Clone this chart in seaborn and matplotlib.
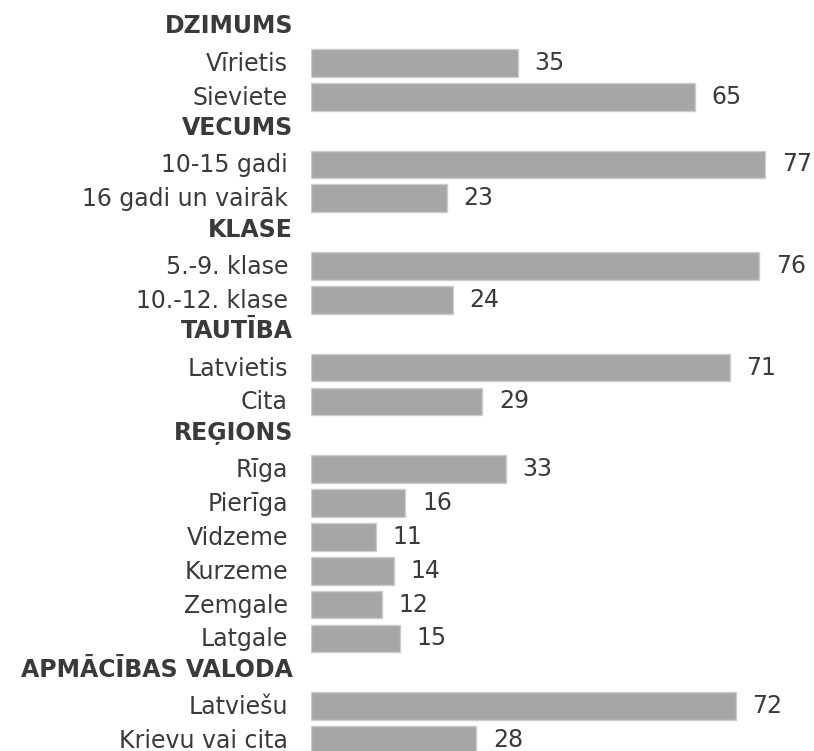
import matplotlib
matplotlib.use("Agg")
import matplotlib.pyplot as plt
import matplotlib.transforms as mtransforms
import seaborn as sns
import pandas as pd

# groups (header) and their categories / values in %
groups = ["DZIMUMS", "VECUMS", "KLASE", "TAUTĪBA", "REĢIONS", "APMĀCĪBAS VALODA"]
dzimums_labels = ["Vīrietis", "Sieviete"]
dzimums_values = [35, 65]
vecums_labels = ["10-15 gadi", "16 gadi un vairāk"]
vecums_values = [77, 23]
klase_labels = ["5.-9. klase", "10.-12. klase"]
klase_values = [76, 24]
tautiba_labels = ["Latvietis", "Cita"]
tautiba_values = [71, 29]
regions_labels = ["Rīga", "Pierīga", "Vidzeme", "Kurzeme", "Zemgale", "Latgale"]
regions_values = [33, 16, 11, 14, 12, 15]
valoda_labels = ["Latviešu", "Krievu vai cita"]
valoda_values = [72, 28]

group_items = [
    (dzimums_labels, dzimums_values),
    (vecums_labels, vecums_values),
    (klase_labels, klase_values),
    (tautiba_labels, tautiba_values),
    (regions_labels, regions_values),
    (valoda_labels, valoda_values),
]

order = []
rows = []
for g, (labs, vals) in zip(groups, group_items):
    order.append(g)
    for l, v in zip(labs, vals):
        order.append(l)
        rows.append({"label": l, "value": v})
df = pd.DataFrame(rows)

text_color = "#3a3a3a"
sns.set_style("white")
plt.rcParams["font.family"] = ["DejaVu Sans"]

W, H = 814, 751
fig = plt.figure(figsize=(W / 100, H / 100), dpi=100)
left_px, right_px = 311, 814
top_px, bot_px = 12, 757
ax = fig.add_axes([left_px / W, (H - bot_px) / H, (right_px - left_px) / W, (bot_px - top_px) / H])

sns.barplot(data=df, x="value", y="label", order=order, orient="h",
            color="#a6a6a6", saturation=1, width=0.82,
            edgecolor="#cccccc", linewidth=1, ax=ax)

ax.set_xlim(0, (right_px - left_px) / 5.9)
ax.set_ylim(len(order) - 0.5, -0.5)
sns.despine(ax=ax, left=True, bottom=True)
ax.set_xticks([])
ax.set_yticks([])
ax.set_xlabel("")
ax.set_ylabel("")

# row labels: headers bold and a bit further right, categories regular
base = mtransforms.blended_transform_factory(ax.transAxes, ax.transData)
up = lambda px: base + mtransforms.ScaledTranslation(0, px / 100, fig.dpi_scale_trans)
axw = right_px - left_px
for i, o in enumerate(order):
    if o in groups:
        ax.text(-18 / axw, i, o, transform=up(2.5), ha="right", va="center",
                fontsize=17, fontweight="bold", color=text_color)
    else:
        ax.text(-23 / axw, i, o, transform=up(1.5), ha="right", va="center_baseline",
                fontsize=17, color=text_color)

ax.bar_label(ax.containers[0], fmt="%.0f", padding=12, fontsize=17, color=text_color)

fig.savefig("out.png", dpi=100)
